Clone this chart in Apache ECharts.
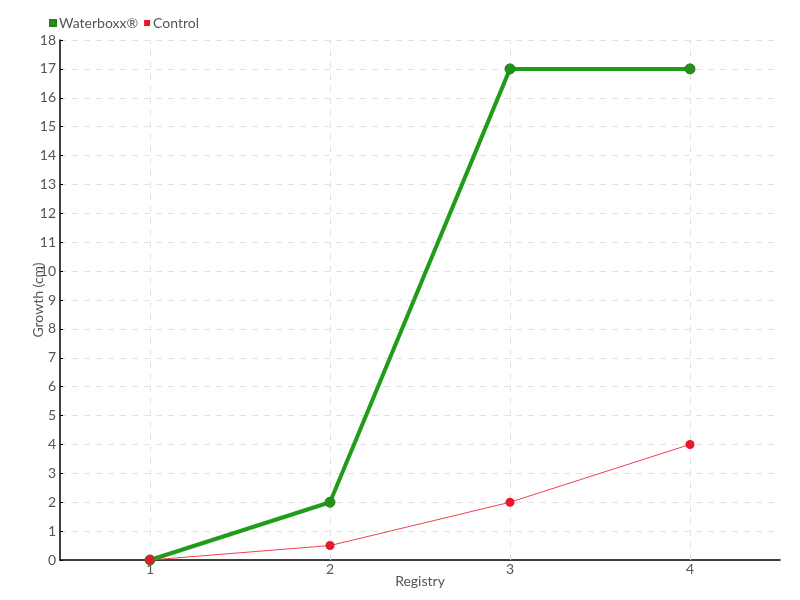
<!DOCTYPE html>
<html><head><meta charset="utf-8">
<script src="https://cdn.jsdelivr.net/npm/echarts@6/dist/echarts.min.js"></script>
<style>html,body{margin:0;padding:0;background:#fff}#c{width:800px;height:600px}</style>
</head><body><div id="c"></div>
<script>
const categories = ['1', '2', '3', '4'];
const waterboxx = [0, 2, 17, 17];
const control = [0, 0.5, 2, 4];
const seriesNames = ['Waterboxx®', 'Control'];

const FONT = 'Lato, "Liberation Sans", sans-serif';
const chart = echarts.init(document.getElementById('c'));
chart.setOption({
  animation: false,
  textStyle: { fontFamily: FONT },
  legend: {
    left: 44, top: 11, itemWidth: 6, itemHeight: 6, itemGap: 6,
    icon: 'rect',
    textStyle: { color: '#555', fontSize: 14, fontFamily: FONT, padding: [0, 0, 0, -2] },
    data: seriesNames
  },
  grid: { left: 60, right: 20, top: 40, bottom: 40 },
  xAxis: {
    type: 'category', data: categories, boundaryGap: true,
    name: 'Registry', nameLocation: 'middle', nameGap: 14, nameMoveOverlap: false,
    nameTextStyle: { color: '#555', fontSize: 14, fontFamily: FONT },
    axisLine: { lineStyle: { color: '#000', width: 1.5 } },
    axisTick: { alignWithLabel: true, length: 5, lineStyle: { color: '#000' } },
    axisLabel: { color: '#555', fontSize: 14, margin: 2, fontFamily: FONT },
    splitLine: { show: false }
  },
  yAxis: {
    type: 'value', min: 0, max: 18, interval: 1,
    name: 'Growth (cm)', nameLocation: 'middle', nameGap: 15, nameMoveOverlap: false,
    nameTextStyle: { color: '#555', fontSize: 14, fontFamily: FONT },
    axisLine: { show: true, lineStyle: { color: '#000', width: 1.5 } },
    axisTick: { show: true, inside: true, length: 3, lineStyle: { color: '#000' } },
    axisLabel: { color: '#555', fontSize: 14, margin: 4, fontFamily: FONT },
    splitLine: { show: true, lineStyle: { color: '#e2e2e2', type: [6, 6] } }
  },
  series: [
    {
      name: seriesNames[0], type: 'line', data: waterboxx,
      symbol: 'circle', symbolSize: 10,
      itemStyle: { color: '#1f931a', borderColor: '#2a7a22', borderWidth: 1 },
      lineStyle: { color: '#1f9c18', width: 4 },
      z: 3,
      markLine: {
        silent: true, symbol: 'none', label: { show: false },
        lineStyle: { color: '#e2e2e2', type: [6, 6], width: 1 },
        data: categories.map(c => ({ xAxis: c })),
        z: 1
      }
    },
    {
      name: seriesNames[1], type: 'line', data: control,
      symbol: 'circle', symbolSize: 9,
      itemStyle: { color: '#e8192c' },
      lineStyle: { color: '#f04050', width: 1 },
      z: 4
    }
  ]
});
</script></body></html>
